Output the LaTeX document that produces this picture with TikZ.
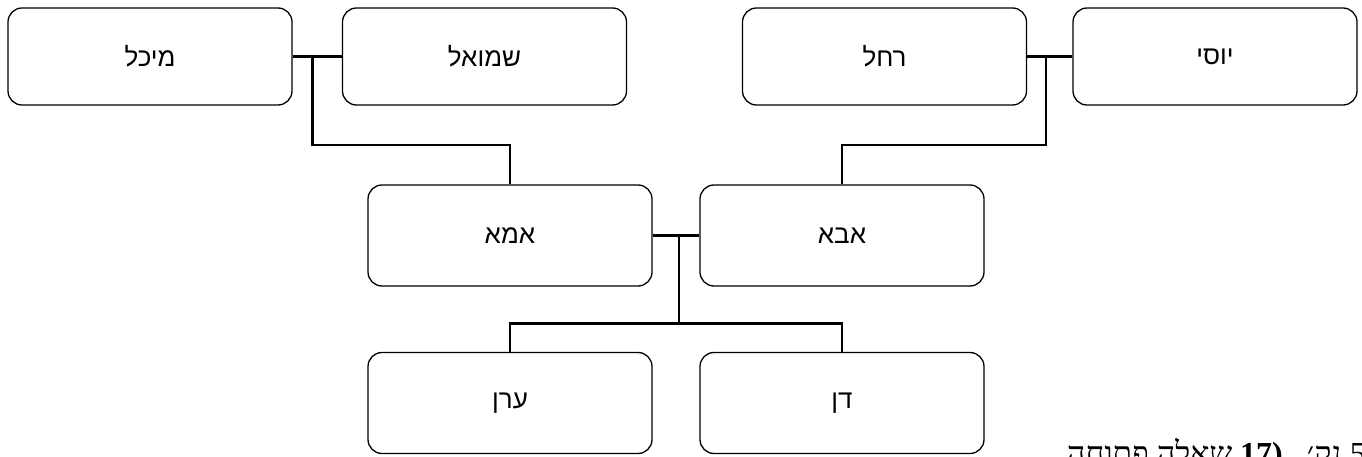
\documentclass[tikz,border=0pt]{standalone}
\usepackage{fontspec}
\setmainfont{Liberation Sans}
\newfontfamily\heb[Script=Hebrew]{Liberation Sans}
\newfontfamily\hebserif[Script=Hebrew]{Liberation Serif}
\TeXXeTstate=1
\usetikzlibrary{calc}
\begin{document}
\begin{tikzpicture}[x=1pt,y=-1pt,
  person/.style={draw, rounded corners=14pt, line width=1.3pt, minimum width=284pt, inner sep=0pt,
    font=\heb\fontsize{26}{30}\selectfont},
  toprow/.style={person, minimum height=97pt},
  lowrow/.style={person, minimum height=101pt},
  link/.style={line width=2.4pt}]
\useasboundingbox (0,0) rectangle (1362,457);
\node[toprow] (michal) at (150,56.5) {\beginR מיכל\endR};
\node[toprow] (shmuel) at (484.5,56.5) {\beginR שמואל\endR};
\node[toprow] (rachel) at (884.5,56.5) {\beginR רחל\endR};
\node[toprow] (yossi) at (1215,56.5) {\beginR יוסי\endR};
\node[lowrow] (ima) at (510,235.5) {\beginR אמא\endR};
\node[lowrow] (aba) at (842,235.5) {\beginR אבא\endR};
\node[lowrow] (eran) at (510,403) {\beginR ערן\endR};
\node[lowrow] (dan) at (842,403) {\beginR דן\endR};
% mother's parents
\coordinate (mj) at ($(michal.east)!0.4!(shmuel.west)$);
\coordinate (mt) at ($(mj)+(0,88.5)$);
\draw[link] (michal.east) -- (shmuel.west);
\draw[link] (mj) -- (mt) -| (ima.north);
% father's parents
\coordinate (rj) at ($(rachel.east)!0.42!(yossi.west)$);
\coordinate (rt) at ($(rj)+(0,88.5)$);
\draw[link] (rachel.east) -- (yossi.west);
\draw[link] (rj) -- (rt) -| (aba.north);
% children
\coordinate (pj) at ($(ima.east)!0.56!(aba.west)$);
\coordinate (bar) at ($(pj)+(0,88)$);
\draw[link] (ima.east) -- (aba.west);
\draw[link] (pj) -- (bar);
\draw[link] (eran.north) |- (bar) -| (dan.north);
% cut-off question heading
\node[anchor=base east, inner sep=0pt, font=\hebserif\fontsize{32}{36}\selectfont] (q) at (1366,464)
  {\beginR שאלה פתוחה\endR\hspace{8pt}\textbf{(17}\hspace{24pt}\beginR נק׳\endR\hspace{8pt}5};
\end{tikzpicture}
\end{document}
